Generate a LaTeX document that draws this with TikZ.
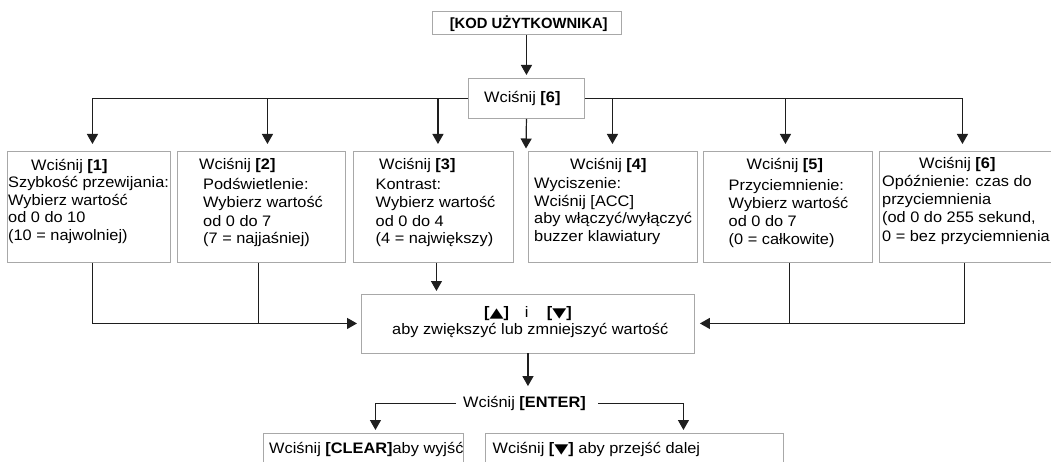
\documentclass[tikz,border=0pt]{standalone}
\usepackage{fontspec}
\setmainfont{Liberation Sans}[FakeStretch=1.075]
\newfontfamily\titlefont{Liberation Sans}
\newfontfamily\symfont{DejaVu Sans}[FakeStretch=1.35]
\newcommand\keyup{{\symfont\fontsize{13.5}{15}\selectfont ▲}}
\newcommand\keydn{{\symfont\fontsize{13.5}{15}\selectfont ▼}}
\usetikzlibrary{arrows.meta,calc}
\definecolor{linec}{HTML}{1E1E1E}
\definecolor{framec}{HTML}{A8A8A8}
\tikzset{
  every node/.style={font=\fontsize{15.2}{17.5}\selectfont, text=black},
  frame/.style={draw=framec, line width=0.9pt, inner sep=0pt, anchor=north west},
  txt/.style={anchor=base west, inner sep=0pt},
  conn/.style={draw=linec, line width=1.2pt},
  arr/.style={conn, -{Triangle[length=10pt,width=11pt]}},
}
\begin{document}
\begin{tikzpicture}[x=1pt,y=-1pt]
\useasboundingbox (0,0) rectangle (1051,462);

% frames
\node[frame, minimum width=189pt, minimum height=22.5pt] (kod) at (431.5,11.5) {};
\node[frame, minimum width=116pt, minimum height=39.5pt] (w6) at (468,78.5) {};
\node[frame, minimum width=163pt, minimum height=111pt] (b1) at (7,151) {};
\node[frame, minimum width=168pt, minimum height=111pt] (b2) at (177,151) {};
\node[frame, minimum width=160pt, minimum height=111pt] (b3) at (353,151) {};
\node[frame, minimum width=169pt, minimum height=111pt] (b4) at (528,151) {};
\node[frame, minimum width=169pt, minimum height=111pt] (b5) at (703,151) {};
\node[frame, minimum width=177pt, minimum height=111pt] (b6) at (879,151) {};
\node[frame, minimum width=333pt, minimum height=59pt] (mid) at (361,293.5) {};
\node[frame, minimum width=200pt, minimum height=40pt] (clr) at (263,433) {};
\node[frame, minimum width=298pt, minimum height=40pt] (nxt) at (485,433) {};

% headings
\node[txt] (kodt) at (449.6,28.7) {\titlefont\bfseries\fontsize{14.8}{17.5}\selectfont [KOD UŻYTKOWNIKA]};
\node[txt] (w6t) at (484,103) {Wciśnij \textbf{[6]}};

% option 1
\node[txt] (t1a) at (31,170.5) {Wciśnij \textbf{[1]}};
\node[txt] (t1b) at (8,188) {Szybkość przewijania:};
\node[txt] (t1c) at (8,205.5) {Wybierz wartość};
\node[txt] (t1d) at (8,223) {od 0 do 10};
\node[txt] (t1e) at (8,240.5) {(10 = najwolniej)};
% option 2
\node[txt] (t2a) at (199,169.5) {Wciśnij \textbf{[2]}};
\node[txt] (t2b) at (203,190) {Podświetlenie:};
\node[txt] (t2c) at (203,208) {Wybierz wartość};
\node[txt] (t2d) at (203,226) {od 0 do 7};
\node[txt] (t2e) at (203,243.5) {(7 = najjaśniej)};
% option 3
\node[txt] (t3a) at (379,169.5) {Wciśnij \textbf{[3]}};
\node[txt] (t3b) at (375.5,190) {Kontrast:};
\node[txt] (t3c) at (375.5,208) {Wybierz wartość};
\node[txt] (t3d) at (375.5,226) {od 0 do 4};
\node[txt] (t3e) at (375.5,243.5) {(4 = największy)};
% option 4
\node[txt] (t4a) at (570,169.5) {Wciśnij \textbf{[4]}};
\node[txt] (t4b) at (534,189) {Wyciszenie:};
\node[txt] (t4c) at (534,206.5) {Wciśnij [ACC]};
\node[txt] (t4d) at (534,224) {aby włączyć/wyłączyć};
\node[txt] (t4e) at (534,241.5) {buzzer klawiatury};
% option 5
\node[txt] (t5a) at (746.5,170) {Wciśnij \textbf{[5]}};
\node[txt] (t5b) at (728.5,190.5) {Przyciemnienie:};
\node[txt] (t5c) at (728.5,208.5) {Wybierz wartość};
\node[txt] (t5d) at (728.5,226.5) {od 0 do 7};
\node[txt] (t5e) at (728.5,244) {(0 = całkowite)};
% option 6
\node[txt] (t6a) at (919,168.5) {Wciśnij \textbf{[6]}};
\node[txt] (t6b) at (882,187) {Opóźnienie: czas do};
\node[txt] (t6c) at (882,205) {przyciemnienia};
\node[txt] (t6d) at (882,223) {(od 0 do 255 sekund,};
\node[txt] (t6e) at (882,241.5) {0 = bez przyciemnienia};

% up/down keys
\node[txt] (upk) at (484,317) {\textbf{[\keyup]}};
\node[txt] (andk) at (524.7,317) {i};
\node[txt] (dnk) at (546.7,317) {\textbf{[\keydn]}};
\node[txt] (midt) at (392,334) {aby zwiększyć lub zmniejszyć wartość};

% enter and final choices
\node[anchor=base west, inner sep=7pt] (enter) at (456,407.5) {Wciśnij \textbf{[ENTER]}};
\node[txt] (clrt) at (269,453) {Wciśnij \textbf{[CLEAR]}aby wyjść};
\node[txt] (nxtt) at (492.5,453) {Wciśnij \textbf{[\keydn]} aby przejść dalej};

% drop points
\coordinate (j1) at ($(b1.north)+(3.5,0)$);
\coordinate (j2) at ($(b2.north)+(6,0)$);
\coordinate (j3) at ($(b3.north)+(4.5,0)$);
\coordinate (j4) at ($(b4.north)+(-0.5,0)$);
\coordinate (j5) at ($(b5.north)+(-2.5,0)$);
\coordinate (j6) at ($(b6.north)+(-5.5,0)$);
\coordinate (gapc) at (526,148.5);
\coordinate (p1) at ($(b1.south)+(3.2,0)$);
\coordinate (p2) at ($(b2.south)+(-3.3,0)$);
\coordinate (p3) at ($(b3.south)+(3,0)$);
\coordinate (p5) at ($(b5.south)+(1.2,0)$);
\coordinate (p6) at ($(b6.south)+(-3.2,0)$);
\coordinate (cx) at ($(clr.north)+(12,0)$);
\coordinate (nx) at ($(nxt.north)+(49,0)$);

% connectors
\draw[arr, shorten >=3.5pt] (kod) -- (w6);
\draw[arr, shorten >=7pt] (w6.west) -| (j1);
\draw[arr, shorten >=7pt] (j2 |- w6.west) -- (j2);
\draw[arr, shorten >=7pt] (j3 |- w6.west) -- (j3);
\draw[arr] (w6.south) -- (gapc);
\draw[arr, shorten >=7pt] (j4 |- w6.east) -- (j4);
\draw[arr, shorten >=7pt] (j5 |- w6.east) -- (j5);
\draw[arr, shorten >=7pt] (w6.east) -| (j6);

\draw[arr, shorten >=4pt] (p1) |- (mid.west);
\draw[conn] (p2) -- (p2 |- mid.west);
\draw[arr, shorten >=2.5pt] (p3) -- (p3 |- mid.north);
\draw[conn] (p5) -- (p5 |- mid.east);
\draw[arr, shorten >=5pt] (p6) |- (mid.east);

\draw[arr, shorten >=3pt] (mid.south) -- (mid.south |- enter.north);
\draw[arr, shorten >=3pt] (enter.west) -| (cx);
\draw[arr, shorten >=3pt] ([xshift=5.4pt]enter.east) -| (nx);
\end{tikzpicture}
\end{document}
